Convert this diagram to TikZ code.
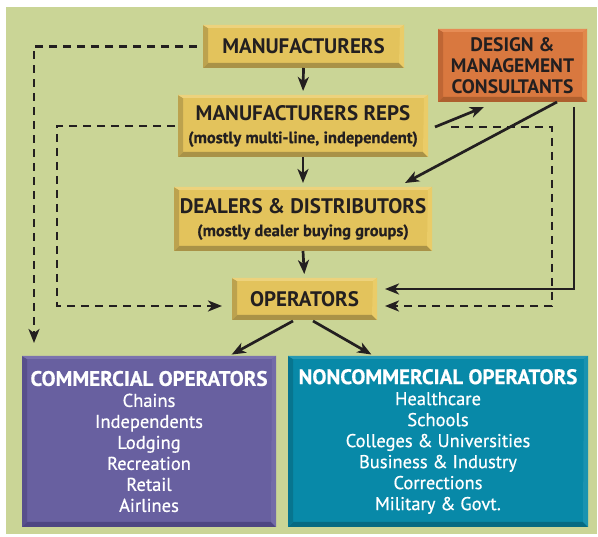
\documentclass[tikz,border=0pt]{standalone}
\usepackage{fontspec}
\setmainfont{PT Sans}
\newfontfamily\medfont[FakeBold=0.6]{PT Sans}
\usetikzlibrary{arrows.meta}
\definecolor{bg}{HTML}{CAD596}
\definecolor{txt}{HTML}{231F20}
\definecolor{yface}{HTML}{E3C35C}
\definecolor{ybot}{HTML}{A99247}
\definecolor{yleft}{HTML}{BCA24E}
\definecolor{ytop}{HTML}{EDD27C}
\definecolor{yright}{HTML}{EACC68}
\definecolor{oface}{HTML}{D9783F}
\definecolor{obot}{HTML}{AE5F2E}
\definecolor{oleft}{HTML}{BF6634}
\definecolor{otop}{HTML}{E68C55}
\definecolor{oright}{HTML}{E0884A}
\definecolor{pface}{HTML}{6860A0}
\definecolor{pbot}{HTML}{4E4682}
\definecolor{pleft}{HTML}{58508C}
\definecolor{ptop}{HTML}{7B73AE}
\definecolor{pright}{HTML}{736BA8}
\definecolor{tface}{HTML}{0889A8}
\definecolor{tbot}{HTML}{066A82}
\definecolor{tleft}{HTML}{07758F}
\definecolor{ttop}{HTML}{2699B4}
\definecolor{tright}{HTML}{1A93B0}
\begin{document}
\begin{tikzpicture}[x=1pt,y=-1pt,
  conn/.style={line width=2.7pt, draw=txt},
  arr/.style={conn,-{Stealth[length=14pt,width=11pt,inset=4pt]}},
  dsh/.style={conn, dash pattern=on 8pt off 6pt},
  bevel/.style n args={4}{path picture={
    \fill[#1] (path picture bounding box.south west) -- (path picture bounding box.south east)
      -- ([shift={(-5pt,5pt)}]path picture bounding box.south east)
      -- ([shift={(5pt,5pt)}]path picture bounding box.south west) -- cycle;
    \fill[#2] (path picture bounding box.south west) -- ([shift={(5pt,5pt)}]path picture bounding box.south west)
      -- ([shift={(5pt,-3pt)}]path picture bounding box.north west)
      -- (path picture bounding box.north west) -- cycle;
    \fill[#3] (path picture bounding box.north west) -- (path picture bounding box.north east)
      -- ([shift={(-4pt,-3pt)}]path picture bounding box.north east)
      -- ([shift={(5pt,-3pt)}]path picture bounding box.north west) -- cycle;
    \fill[#4] (path picture bounding box.north east) -- (path picture bounding box.south east)
      -- ([shift={(-5pt,5pt)}]path picture bounding box.south east)
      -- ([shift={(-4pt,-3pt)}]path picture bounding box.north east) -- cycle;
  }},
  box/.style={inner sep=0pt, outer sep=0pt, align=center},
  ybox/.style={box, fill=yface, bevel={ybot}{yleft}{ytop}{yright}, text=txt,
    font=\bfseries\fontsize{21}{23}\selectfont},
  obox/.style={box, fill=oface, bevel={obot}{oleft}{otop}{oright}, text=txt,
    font=\bfseries\fontsize{19.5}{21}\selectfont},
  pbox/.style={box, fill=pface, bevel={pbot}{pleft}{ptop}{pright}, text=white,
    font=\medfont\fontsize{18.5}{21}\selectfont},
  tbox/.style={box, fill=tface, bevel={tbot}{tleft}{ttop}{tright}, text=white,
    font=\medfont\fontsize{18.5}{21}\selectfont}
]
\useasboundingbox (0,0) rectangle (598,537);
\fill[white] (0,0) rectangle (598,537);
\fill[bg] (6,7) rectangle (597,534);

\node[ybox, minimum width=201pt, minimum height=43pt] (man) at (303.5,46.5) {MANUFACTURERS};
\node[ybox, minimum width=250pt, minimum height=62pt] (reps) at (303,126)
  {MANUFACTURERS REPS\\{\medfont\fontsize{16.5}{16.5}\selectfont (mostly multi-line, independent)}};
\node[ybox, minimum width=258pt, minimum height=64pt] (deal) at (303,219)
  {DEALERS \& DISTRIBUTORS\\{\medfont\fontsize{16.5}{16.5}\selectfont (mostly dealer buying groups)}};
\node[ybox, minimum width=145pt, minimum height=42pt] (ops) at (304.5,299) {OPERATORS};
\node[obox, minimum width=149pt, minimum height=73pt] (des) at (512.5,65.5)
  {DESIGN \&\\MANAGEMENT\\CONSULTANTS};
\node[pbox, minimum width=254pt, minimum height=171pt] (com) at (149,441.5)
  {{\bfseries\fontsize{21}{24}\selectfont COMMERCIAL OPERATORS}\\Chains\\Independents\\Lodging\\Recreation\\Retail\\Airlines};
\node[tbox, minimum width=300pt, minimum height=171pt] (non) at (438,441.5)
  {{\bfseries\fontsize{21}{24}\selectfont NONCOMMERCIAL OPERATORS}\\Healthcare\\Schools\\Colleges \& Universities\\Business \& Industry\\Corrections\\Military \& Govt.};

% main vertical chain
\draw[arr, shorten >=4pt] (man.south) -- (reps.north);
\draw[arr, shorten >=4pt] (reps.south) -- (deal.north);
\draw[arr, shorten >=4pt] (deal.south) -- (ops.north);

% dashed: manufacturers -> commercial operators
\coordinate (c1) at (34,343);
\draw[dsh, arr, dash pattern=on 8pt off 6pt] ([xshift=-6pt]man.west) -| (c1);

% dashed: reps -> operators (left loop)
\coordinate (c2) at (57,306);
\draw[dsh, arr, dash pattern=on 8pt off 6pt] ([xshift=-3pt]reps.west) -| (c2) -- ([xshift=-10pt]ops.west |- c2);

% reps -> design consultants
\coordinate (r0) at (435,127);
\coordinate (dtip) at (484,107);
\draw[arr] (r0) -- (dtip);

% dashed: reps -> operators (right loop)
\coordinate (r1) at (451,127);
\coordinate (c3) at (552,306);
\draw[dsh, arr, dash pattern=on 8pt off 6pt] (r1) -| (c3) -- ([xshift=8pt]ops.east |- c3);

% design -> dealers
\coordinate (d0) at (557,102);
\coordinate (d1) at (405,183);
\draw[arr] (d0) -- (d1);

% design -> operators
\coordinate (e0) at (574,107);
\coordinate (e1) at (574,289);
\draw[arr] (e0) -- (e1) -- ([xshift=8pt]ops.east |- e1);

% operators -> commercial / noncommercial
\coordinate (o1) at (293,321);
\coordinate (o2) at (313,321);
\draw[arr, shorten >=3pt] (o1) -- (com.north -| 229,0);
\draw[arr, shorten >=3pt] (o2) -- (non.north -| 374,0);
\end{tikzpicture}
\end{document}
